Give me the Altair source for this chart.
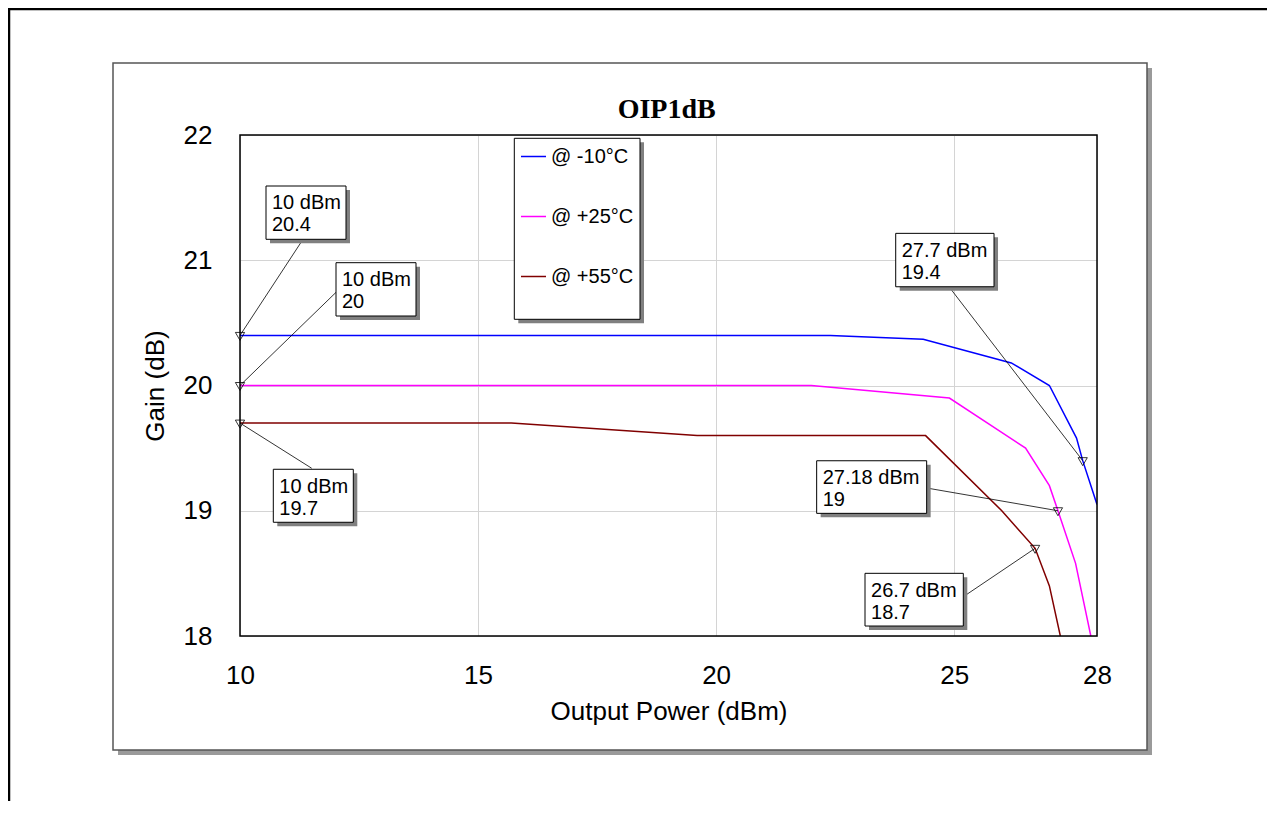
import altair as alt
import pandas as pd

# ---------------- data ----------------
series = ["@ -10°C", "@ +25°C", "@ +55°C"]
colors = ["#0000ff", "#ff00ff", "#800000"]

pw_m10 = [10.0, 22.4, 24.35, 26.2, 27.0, 27.57, 27.7, 28.0]
g_m10 = [20.4, 20.4, 20.37, 20.18, 20.0, 19.58, 19.4, 19.05]

pw_p25 = [10.0, 22.0, 24.9, 26.5, 27.0, 27.18, 27.55, 27.87]
g_p25 = [20.0, 20.0, 19.9, 19.5, 19.2, 19.0, 18.58, 18.0]

pw_p55 = [10.0, 15.7, 19.6, 24.4, 26.0, 26.7, 27.0, 27.23]
g_p55 = [19.7, 19.7, 19.6, 19.6, 19.0, 18.7, 18.4, 18.0]

mk_power = [10, 10, 10, 27.7, 27.18, 26.7]
mk_gain = [20.4, 20, 19.7, 19.4, 19, 18.7]

x_ticks = [10, 15, 20, 25, 28]
y_ticks = [18, 19, 20, 21, 22]

# ---------------- layout (pixels) ----------------
W, H = 857, 501
FONT = "Liberation Sans"
# annotation boxes: offset of box from marker (dx, dy), size (w, h), leader end (lx, ly)
box_layout = [
    (26, -149.4, 80, 53.3, 63, -96.1),
    (96, -122.8, 80, 53.3, 96.7, -93.8),
    (33.3, 46.2, 80, 53, 71.7, 45.2),
    (-187, -227.3, 98.3, 53.4, -133.7, -173.9),
    (-241.3, -50, 110, 52.6, -131.3, -22.75),
    (-170.1, 25, 98.3, 52.7, -71.8, 48.4),
]

rows = []
for name, pw, g in zip(series, [pw_m10, pw_p25, pw_p55], [g_m10, g_p25, g_p55]):
    for p, v in zip(pw, g):
        rows.append({"power": p, "gain": v, "series": name})
df = pd.DataFrame(rows)

mk = pd.DataFrame({
    "power": mk_power,
    "gain": mk_gain,
    "label": [f"{p:g} dBm\n{g:g}" for p, g in zip(mk_power, mk_gain)],
})

xs = alt.Scale(domain=[10, 28], nice=False, zero=False)
ys = alt.Scale(domain=[18, 22], nice=False, zero=False)
x_axis = alt.Axis(values=x_ticks, format="d", title="Output Power (dBm)",
                  labelPadding=26, labelFlush=False, titleX=W / 2, titleY=83,
                  titleBaseline="alphabetic", titleAlign="center")
y_axis = alt.Axis(values=y_ticks, format="d", title="Gain (dB)",
                  labelPadding=28, labelFlush=False, titleX=-77, titleY=H / 2,
                  titleBaseline="alphabetic", titleAlign="center", titleAngle=270)


def X(f="power"):
    return alt.X(f"{f}:Q", scale=xs, axis=x_axis)


def Y(f="gain"):
    return alt.Y(f"{f}:Q", scale=ys, axis=y_axis)


one = pd.DataFrame({"a": [0]})


def deco_rect(x1, x2, y1, y2, **kw):
    return alt.Chart(one).mark_rect(**kw).encode(
        x=alt.value(x1), x2=alt.value(x2), y=alt.value(y1), y2=alt.value(y2))


layers = []
# page border
layers.append(deco_rect(-231, 1300, -126, 900, filled=False, stroke="black", strokeWidth=2.5))
# panel shadow strips and border
layers.append(deco_rect(907, 912, -67, 620, color="#9a9a9a"))
layers.append(deco_rect(-122, 912, 615, 620, color="#9a9a9a"))
layers.append(deco_rect(-127, 907, -72, 615, filled=False, stroke="#555555", strokeWidth=1.5))

# legend box
layers.append(deco_rect(278.3, 404, 7.3, 188.3, color="#808080"))
layers.append(deco_rect(274.3, 400, 3.3, 184.3, fill="white", stroke="black", strokeWidth=1))

# data lines
lines = alt.Chart(df).mark_line(strokeWidth=1.5, clip=True).encode(
    x=X(), y=Y(),
    color=alt.Color("series:N", scale=alt.Scale(domain=series, range=colors),
                    legend=alt.Legend(title=None, orient="none", legendX=280, legendY=8,
                                      symbolType="stroke", symbolSize=625,
                                      symbolStrokeWidth=1.5, labelFontSize=20,
                                      labelFont=FONT, labelColor="black",
                                      labelOffset=4, rowPadding=36, padding=0)),
    detail="series:N",
)
layers.append(lines)

# markers
layers.append(alt.Chart(mk).mark_point(shape="triangle-down", filled=False, stroke="black",
                                       size=85, strokeWidth=0.8, opacity=1, yOffset=1)
              .encode(x=X(), y=Y()))

# annotations
for i, (dx, dy, w, h, lx, ly) in enumerate(box_layout):
    d = mk.iloc[[i]]
    base = alt.Chart(d)
    layers.append(base.mark_rule(color="black", strokeWidth=0.8, x2Offset=lx, y2Offset=ly)
                  .encode(x=X(), y=Y(), x2="power:Q", y2="gain:Q"))
    layers.append(base.mark_rect(color="#808080", xOffset=dx + 4, x2Offset=dx + w + 4,
                                 yOffset=dy + 4, y2Offset=dy + h + 4)
                  .encode(x=X(), y=Y(), x2="power:Q", y2="gain:Q"))
    layers.append(base.mark_rect(fill="white", stroke="black", strokeWidth=1,
                                 xOffset=dx, x2Offset=dx + w, yOffset=dy, y2Offset=dy + h)
                  .encode(x=X(), y=Y(), x2="power:Q", y2="gain:Q"))
    layers.append(base.mark_text(align="left", baseline="alphabetic", dx=dx + 6, dy=dy + 23.3,
                                 lineBreak="\n", lineHeight=22, fontSize=20, font=FONT,
                                 color="black")
                  .encode(x=X(), y=Y(), text="label:N"))

# plot frame
layers.append(deco_rect(0, W, 0, H, filled=False, stroke="black", strokeWidth=1.5))

# title
layers.append(alt.Chart(one).mark_text(text="OIP1dB", font="Liberation Serif", fontSize=28,
                                       fontWeight="bold", align="center",
                                       baseline="alphabetic", color="black")
              .encode(x=alt.value(426.7), y=alt.value(-17)))

chart = alt.layer(*layers).properties(
    width=W, height=H,
    padding={"left": 232, "top": 127, "right": 170, "bottom": 165},
    autosize=alt.AutoSizeParams(type="none"),
    background="white",
).configure_view(strokeWidth=0).configure_axis(
    labelFont=FONT, labelFontSize=26, labelColor="black",
    titleFont=FONT, titleFontSize=26, titleFontWeight="normal", titleColor="black",
    gridColor="#d4d4d4", gridWidth=1, domain=False, ticks=False, tickSize=0,
)

chart.save("out.html", embed_options={"renderer": "svg", "actions": False})
